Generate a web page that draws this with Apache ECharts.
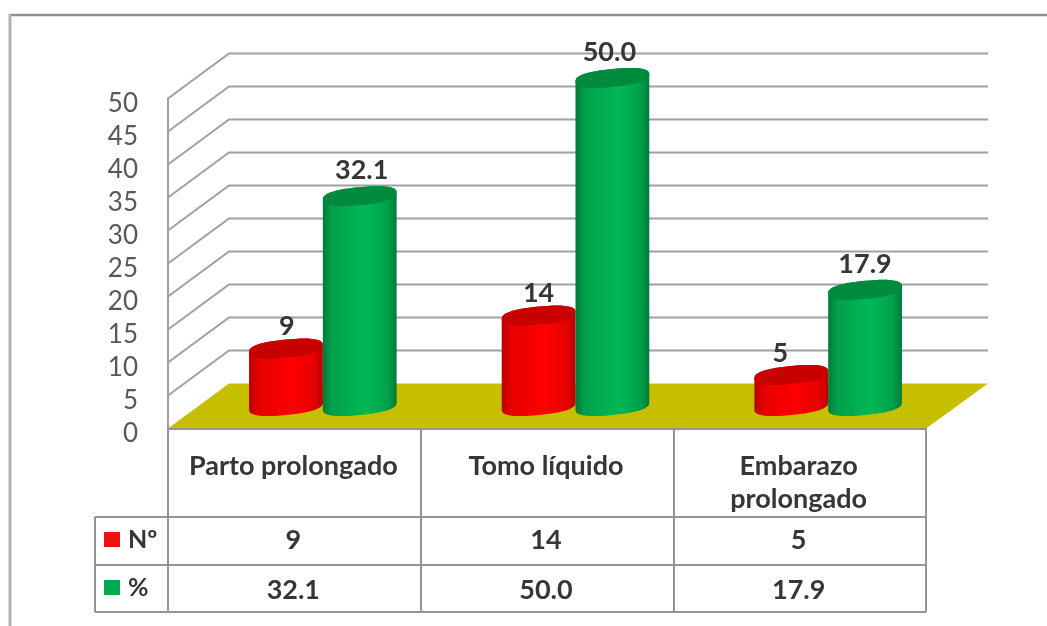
<!DOCTYPE html>
<html>
<head>
<meta charset="utf-8">
<style>html,body{margin:0;padding:0;background:#fff}#chart{width:1047px;height:626px}</style>
<script src="https://cdn.jsdelivr.net/npm/echarts@6/dist/echarts.min.js"></script>
</head>
<body>
<div id="chart"></div>
<script>
const categories = ['Parto prolongado', 'Tomo líquido', 'Embarazo\nprolongado'];
const seriesNames = ['Nº', '%'];
const countValues = [9, 14, 5];
const percentValues = [32.1, 50.0, 17.9];
const countLabels = ['9', '14', '5'];
const percentLabels = ['32.1', '50.0', '17.9'];
const gridTicks = [5, 10, 15, 20, 25, 30, 35, 40, 45, 50];

const FONT = 'Lato, "Open Sans", sans-serif';
const BOLD = 'bold 27px ' + FONT;
const TEXT = '#363636';
const LINE = '#a0a0a0';
const RULE = '#949494';
const DEPTH = { x: 61, y: -45 };      // oblique offset from front edge to back wall
const RIGHT_END = 62;                 // back wall ends above the floor's far corner
const ROW_LINES = [517, 565, 612];    // table row rules
const ROW_TEXT = [540, 590];          // table row text centres
const CATEGORY_TOP = 450;             // first line of the category cell
const CATEGORY_NUDGE = [-1, -1, -1];  // hand placement of the category captions
const TABLE_LEFT = 95;

const chart = echarts.init(document.getElementById('chart'), null, { renderer: 'canvas' });

function plotEdges(api) {
  const origin = api.coord([0, 0]);
  const band = api.size([1, 0])[0];
  return { left: origin[0] - band / 2, right: origin[0] + band * 2.5, base: origin[1] };
}

// One gridline per tick: diagonal along the side wall, then across the back wall.
function renderWall(params, api) {
  const e = plotEdges(api);
  const y = api.coord([0, api.value(0)])[1];
  return {
    type: 'polyline', silent: true,
    shape: { points: [[e.left, y], [e.left + DEPTH.x, y + DEPTH.y], [e.right + RIGHT_END, y + DEPTH.y]] },
    style: { stroke: LINE, lineWidth: 2, fill: null }
  };
}

function renderFloor(params, api) {
  const e = plotEdges(api);
  return {
    type: 'polygon', silent: true,
    shape: { points: [[e.left, e.base], [e.left + DEPTH.x, e.base + DEPTH.y],
                      [e.right + RIGHT_END, e.base + DEPTH.y], [e.right, e.base]] },
    style: { fill: '#c5bf00' }
  };
}

// Point on the rim of a slightly squared, tilted ellipse: t=0 right, t=PI/2 lowest, t=PI left.
function rim(cx, cy, a, b, t) {
  const c = Math.cos(t);
  const s = Math.sin(t);
  const sx = Math.sign(c) * Math.pow(Math.abs(c), 0.8);
  const sy = Math.sign(s) * Math.pow(Math.abs(s), 0.8);
  return [cx + a * sx, cy + b * sy - 3.5 * sx];
}

function makeCylinder(side, body, top, labels, labelGap, labelNudge) {
  return function (params, api) {
    const cat = api.value(0);
    const val = api.value(1);
    const band = api.size([1, 0])[0];
    const a = band * 0.146;
    const b = 9;
    const base = api.coord([cat, 0]);
    const head = api.coord([cat, val]);
    const cx = base[0] + DEPTH.x / 2 - 2 + side * a;
    const by = base[1] + DEPTH.y / 2;
    const ty = head[1] + DEPTH.y / 2 + 2;
    const bodyPts = [];
    for (let i = 0; i <= 40; i++) bodyPts.push(rim(cx, by, a, b, Math.PI * i / 40));
    for (let i = 0; i <= 40; i++) bodyPts.push(rim(cx, ty, a, b, Math.PI + Math.PI * i / 40));
    const topPts = [];
    for (let i = 0; i < 80; i++) topPts.push(rim(cx, ty, a, b, 2 * Math.PI * i / 80));
    return {
      type: 'group',
      children: [
        {
          type: 'polygon', shape: { points: bodyPts },
          style: {
            fill: new echarts.graphic.LinearGradient(0, 0, 1, 0, [
              { offset: 0, color: body[0] },
              { offset: 0.12, color: body[1] },
              { offset: 0.58, color: body[2] },
              { offset: 0.88, color: body[1] },
              { offset: 1, color: body[0] }
            ])
          }
        },
        { type: 'polygon', shape: { points: topPts }, style: { fill: top } },
        {
          type: 'text',
          style: {
            text: labels[cat], x: cx + labelNudge[cat], y: ty - labelGap, align: 'center', verticalAlign: 'middle',
            font: BOLD, fill: TEXT
          }
        }
      ]
    };
  };
}

// Category captions and data rows of the table under the plot, aligned on the bands.
function renderRows(params, api) {
  const i = api.value(0);
  const center = api.coord([i, 0])[0];
  const cell = function (text, y) {
    return {
      type: 'text',
      style: { text: text, x: center - 1, y: y, align: 'center', verticalAlign: 'middle', font: BOLD, fill: TEXT }
    };
  };
  return {
    type: 'group', silent: true,
    children: [
      {
        type: 'text',
        style: {
          text: categories[i], x: center + CATEGORY_NUDGE[i], y: CATEGORY_TOP, align: 'center', verticalAlign: 'top',
          font: BOLD, lineHeight: 33, fill: TEXT
        }
      },
      cell(countLabels[i], ROW_TEXT[0]),
      cell(percentLabels[i], ROW_TEXT[1])
    ]
  };
}

chart.setOption({
  animation: false,
  backgroundColor: '#ffffff',
  grid: { left: 168, right: 121, top: 98.5, bottom: 197.5, containLabel: false },
  xAxis: {
    type: 'category',
    data: categories,
    axisLine: { lineStyle: { color: RULE, width: 2 } },
    axisTick: { show: true, length: 183.5, lineStyle: { color: RULE, width: 2 } },
    axisLabel: { show: false },
    z: 4
  },
  yAxis: {
    type: 'value', min: 0, max: 50, interval: 5,
    axisLine: { show: true, lineStyle: { color: LINE, width: 2 } },
    axisTick: { show: false },
    splitLine: { show: false },
    axisLabel: { color: '#585858', fontFamily: FONT, fontSize: 26, margin: 30, verticalAlign: 'top', lineHeight: 11 }
  },
  legend: {
    show: true, orient: 'vertical', left: 104, top: 527, padding: 0,
    icon: 'rect', itemWidth: 16, itemHeight: 15, itemGap: 23,
    selectedMode: false,
    textStyle: { color: TEXT, fontFamily: FONT, fontWeight: 'bold', fontSize: 25, padding: [0, 0, 0, 3] },
    data: seriesNames
  },
  graphic: [
    // outer frame: top and left rules only
    { type: 'line', shape: { x1: 9, y1: 15, x2: 1047, y2: 15 }, style: { stroke: '#8f8f8f', lineWidth: 2.5 } },
    { type: 'line', shape: { x1: 10, y1: 14, x2: 10, y2: 626 }, style: { stroke: '#b4b4b4', lineWidth: 3 } },
    // table rules that extend past the plot on the left
    ...ROW_LINES.map(function (y) {
      return { type: 'line', z: 5, shape: { x1: TABLE_LEFT, y1: y, x2: 926, y2: y }, style: { stroke: RULE, lineWidth: 2 } };
    }),
    { type: 'line', z: 5, shape: { x1: TABLE_LEFT, y1: ROW_LINES[0], x2: TABLE_LEFT, y2: ROW_LINES[2] }, style: { stroke: RULE, lineWidth: 2 } }
  ],
  series: [
    {
      type: 'custom', name: 'floor', coordinateSystem: 'cartesian2d', z: 1, silent: true,
      renderItem: renderFloor, data: [0]
    },
    {
      type: 'custom', name: 'wall', coordinateSystem: 'cartesian2d', z: 1, silent: true,
      renderItem: renderWall, data: gridTicks.map(function (t) { return [t]; }), encode: { y: 0 }
    },
    {
      type: 'custom', name: seriesNames[0], coordinateSystem: 'cartesian2d', z: 2,
      itemStyle: { color: '#ee1010' },
      renderItem: makeCylinder(-1, ['#b80000', '#e60000', '#ff0000'], '#c80000', countLabels, 22, [1, 0, -11]),
      data: countValues.map(function (v, i) { return [i, v]; }),
      encode: { x: 0, y: 1 }
    },
    {
      type: 'custom', name: seriesNames[1], coordinateSystem: 'cartesian2d', z: 3,
      itemStyle: { color: '#00a84f' },
      renderItem: makeCylinder(1, ['#007a38', '#00a04a', '#00b855'], '#008a3e', percentLabels, 26, [2, -3, 0]),
      data: percentValues.map(function (v, i) { return [i, v]; }),
      encode: { x: 0, y: 1 }
    },
    {
      type: 'custom', name: 'rows', coordinateSystem: 'cartesian2d', z: 6, silent: true,
      renderItem: renderRows,
      data: categories.map(function (c, i) { return [i]; }),
      encode: { x: 0 }
    }
  ]
});
</script>
</body>
</html>
